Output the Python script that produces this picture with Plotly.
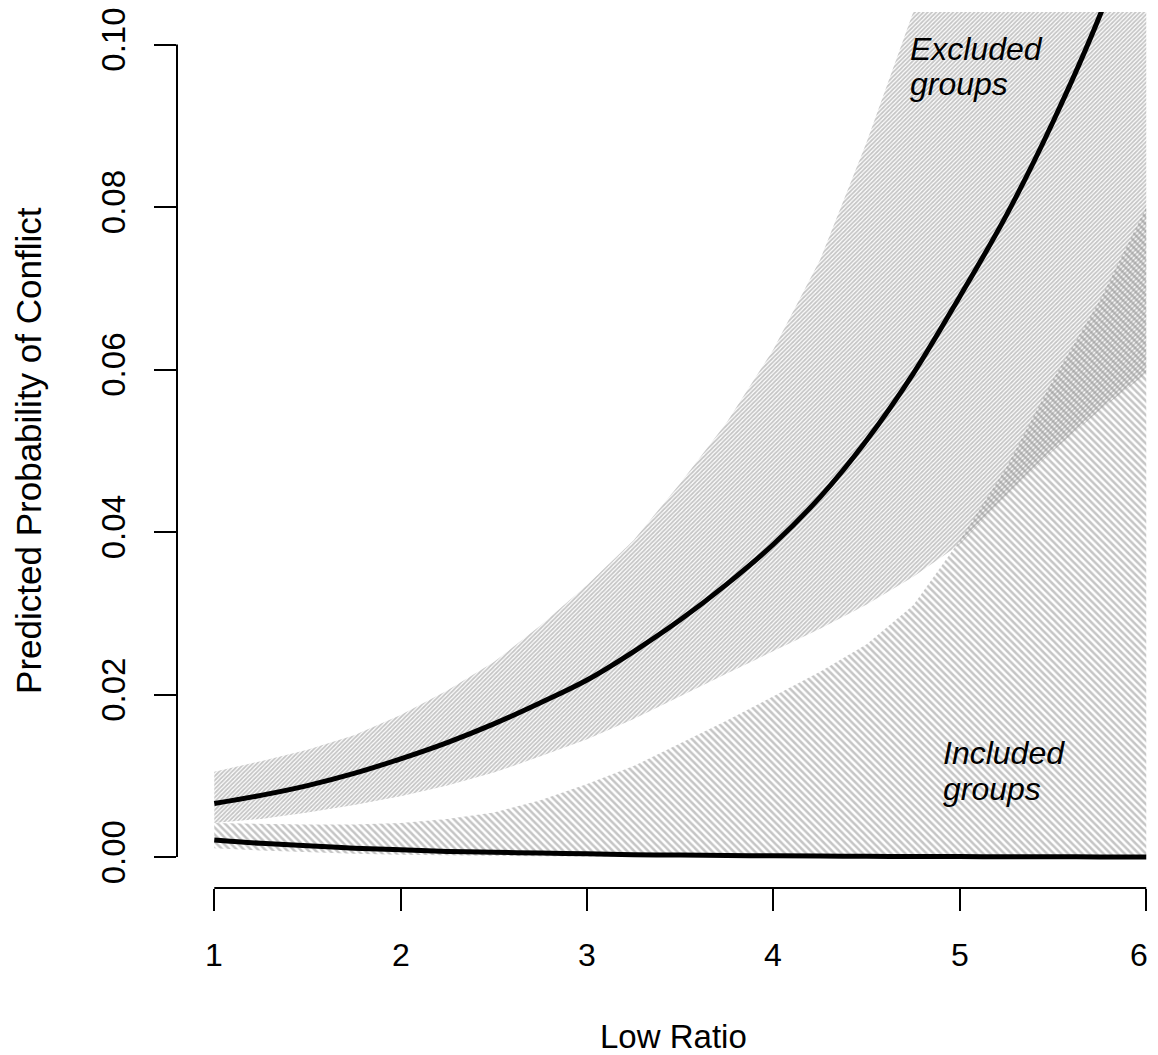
import plotly.graph_objects as go

# ---- data ----
ratio = [1.00, 1.25, 1.50, 1.75, 2.00, 2.25, 2.50, 2.75, 3.00, 3.25, 3.50,
         3.75, 4.00, 4.25, 4.50, 4.75, 5.00, 5.25, 5.50, 5.75, 6.00]

excluded_mean = [0.0066, 0.0076, 0.0088, 0.0103, 0.0121, 0.0141, 0.0164, 0.0190,
                 0.0218, 0.0253, 0.0292, 0.0336, 0.0385, 0.0443, 0.0513, 0.0595,
                 0.0690, 0.0790, 0.0905, 0.1035, 0.1190]
excluded_upper = [0.0105, 0.0118, 0.0132, 0.0150, 0.0175, 0.0205, 0.0240, 0.0285,
                  0.0335, 0.0390, 0.0460, 0.0535, 0.0625, 0.0735, 0.0880, 0.1040,
                  0.1200, 0.1380, 0.1580, 0.1800, 0.2050]
excluded_lower = [0.0042, 0.0047, 0.0055, 0.0064, 0.0075, 0.0088, 0.0104, 0.0124,
                  0.0145, 0.0170, 0.0198, 0.0226, 0.0254, 0.0281, 0.0311, 0.0345,
                  0.0385, 0.0445, 0.0500, 0.0550, 0.0595]

included_mean = [0.0021, 0.0017, 0.0014, 0.0011, 0.0009, 0.0007, 0.0006, 0.0005,
                 0.0004, 0.0003, 0.00025, 0.0002, 0.00016, 0.00013, 0.0001, 0.00008,
                 0.00007, 0.00005, 0.00004, 0.00003, 0.00003]
included_upper = [0.0042, 0.0041, 0.0040, 0.0040, 0.0042, 0.0047, 0.0055, 0.0070,
                  0.0090, 0.0112, 0.0140, 0.0168, 0.0198, 0.0228, 0.0262, 0.0310,
                  0.0390, 0.0480, 0.0588, 0.0685, 0.0800]
included_lower = [0.0011, 0.0008, 0.0006, 0.0004, 0.0003, 0.0002, 0.00015, 0.0001,
                  0.00007, 0.00005, 0.00003, 0.00002, 0.00001, 0.0, 0.0, 0.0,
                  0.0, 0.0, 0.0, 0.0, 0.0]

x_ticks = [1, 2, 3, 4, 5, 6]
x_labels = ["1", "2", "3", "4", "5", "6"]
y_ticks = [0.00, 0.02, 0.04, 0.06, 0.08, 0.10]
y_labels = ["0.00", "0.02", "0.04", "0.06", "0.08", "0.10"]

x_title = "Low Ratio"
y_title = "Predicted Probability of Conflict"
excluded_label = ["Excluded", "groups"]
included_label = ["Included", "groups"]

FONT = "Liberation Sans, Arial, Helvetica, sans-serif"
HATCH = "#8c8c8c"

fig = go.Figure()

# excluded band (hatched "/")
fig.add_trace(go.Scatter(
    x=ratio + ratio[::-1], y=excluded_upper + excluded_lower[::-1],
    fill="toself", mode="lines", line=dict(width=0),
    fillcolor="rgba(0,0,0,0)",
    fillpattern=dict(shape="/", size=3, solidity=0.6, fgcolor=HATCH,
                     bgcolor="rgba(0,0,0,0)"),
    hoverinfo="skip", showlegend=False))

# included band (hatched "\")
fig.add_trace(go.Scatter(
    x=ratio + ratio[::-1], y=included_upper + included_lower[::-1],
    fill="toself", mode="lines", line=dict(width=0),
    fillcolor="rgba(0,0,0,0)",
    fillpattern=dict(shape="\\", size=5, solidity=0.5, fgcolor=HATCH,
                     bgcolor="rgba(0,0,0,0)"),
    hoverinfo="skip", showlegend=False))

fig.add_trace(go.Scatter(x=ratio, y=excluded_mean, mode="lines",
                         line=dict(color="black", width=5, shape="spline"),
                         showlegend=False))
fig.add_trace(go.Scatter(x=ratio, y=included_mean, mode="lines",
                         line=dict(color="black", width=5, shape="spline"),
                         showlegend=False))

# R-style detached axis lines spanning the tick range
fig.add_shape(type="line", xref="x", yref="paper",
              x0=min(x_ticks), x1=max(x_ticks), y0=0, y1=0,
              line=dict(color="black", width=2))
fig.add_shape(type="line", xref="paper", yref="y",
              x0=0, x1=0, y0=min(y_ticks), y1=max(y_ticks),
              line=dict(color="black", width=2))

# x tick labels (as text annotations so the last one stays inside the page)
for i, (t, lab) in enumerate(zip(x_ticks, x_labels)):
    fig.add_annotation(text=lab, x=t, xref="x", y=-0.0761, yref="paper",
                       xanchor="center", yanchor="middle", showarrow=False,
                       xshift=-7 if i == len(x_ticks) - 1 else 0,
                       font=dict(family=FONT, size=32, color="black"))

# axis titles
fig.add_annotation(text=x_title, xref="paper", yref="paper", x=0.506, y=-0.169,
                   xanchor="center", yanchor="middle", showarrow=False,
                   font=dict(family=FONT, size=33, color="black"))
fig.add_annotation(text=y_title, xref="paper", yref="paper", x=-0.152, y=0.5,
                   xanchor="center", yanchor="middle", textangle=-90, showarrow=False,
                   font=dict(family=FONT, size=35, color="black"))

# in-plot labels
for i, t in enumerate(excluded_label):
    fig.add_annotation(text="<i>%s</i>" % t, x=4.72, y=0.0995 - i * 0.0044,
                       xanchor="left", yanchor="middle", showarrow=False,
                       font=dict(family=FONT, size=32, color="black"))
for i, t in enumerate(included_label):
    fig.add_annotation(text="<i>%s</i>" % t, x=4.90, y=0.0128 - i * 0.0044,
                       xanchor="left", yanchor="middle", showarrow=False,
                       font=dict(family=FONT, size=32, color="black"))

fig.update_layout(
    width=1150, height=1047,
    margin=dict(l=169, r=0, t=0, b=167),
    paper_bgcolor="white", plot_bgcolor="white",
    font=dict(family=FONT, size=32, color="black"),
    xaxis=dict(range=[0.8, 6.063], tickvals=x_ticks, showticklabels=False,
               showgrid=False, zeroline=False, showline=False,
               ticks="outside", ticklen=22, tickwidth=2, tickcolor="black"),
    yaxis=dict(range=[-0.0038, 0.1040], tickvals=y_ticks, ticktext=y_labels,
               showgrid=False, zeroline=False, showline=False,
               ticks="outside", ticklen=22, tickwidth=2, tickcolor="black",
               tickangle=-90, ticklabelstandoff=16, ticklabeloverflow="allow",
               tickfont=dict(size=33)),
)

fig.write_html("out.html")
